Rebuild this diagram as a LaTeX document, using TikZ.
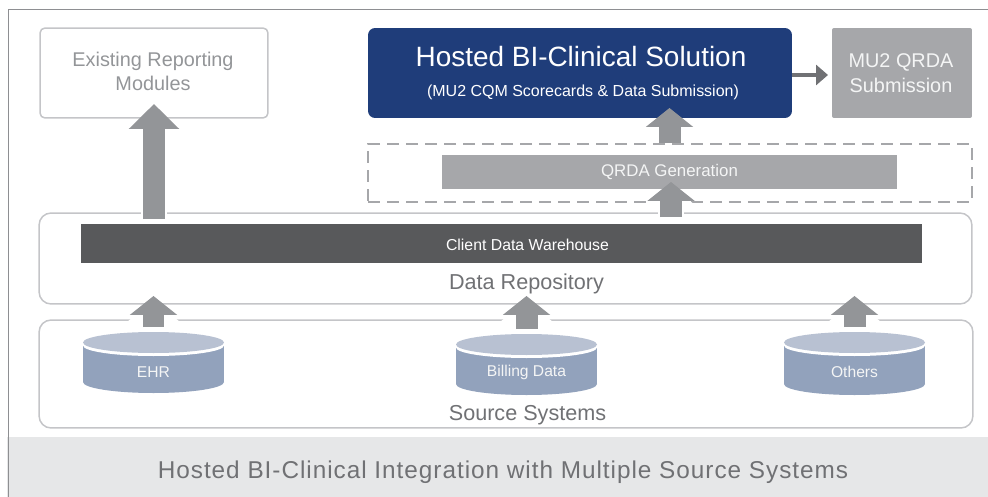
\documentclass[tikz,border=0pt]{standalone}
\usepackage{fontspec}
\setmainfont{Liberation Sans}
\newfontfamily\capfont[LetterSpace=4]{Liberation Sans}
\usetikzlibrary{arrows.meta}

\definecolor{framegray}{HTML}{8E8F92}
\definecolor{boxline}{HTML}{C4C5C8}
\definecolor{navy}{HTML}{1F3D7A}
\definecolor{midgray}{HTML}{A6A7AA}
\definecolor{arrowgray}{HTML}{939598}
\definecolor{darkgray}{HTML}{58595B}
\definecolor{band}{HTML}{E6E7E8}
\definecolor{dbbody}{HTML}{92A2BC}
\definecolor{dbtop}{HTML}{B8C1D2}
\definecolor{textgray}{HTML}{707174}

\tikzset{
    box/.style={draw=boxline, line width=0.03cm, rounded corners=0.1cm, inner sep=0pt, outer sep=0pt},
    solid box/.style={inner sep=0pt, outer sep=0pt},
    bigarrow/.style={arrowgray, line width=0.46cm, -{Triangle[length=0.5cm, width=0.98cm]},
        preaction={draw=white, line width=0.54cm, -{Triangle[length=0.56cm, width=1.14cm]}, shorten >=-0.06cm}},
    smallarrow/.style={arrowgray, line width=0.44cm, -{Triangle[length=0.38cm, width=0.93cm]},
        preaction={draw=white, line width=0.52cm, -{Triangle[length=0.44cm, width=1.09cm]}, shorten >=-0.06cm}},
    label/.style={inner sep=0pt, text=textgray, align=center},
    small white/.style={inner sep=0pt, text=white, align=center},
    soft white/.style={small white, text=white!88!midgray},
}

\begin{document}
\begin{tikzpicture}[x=0.02cm, y=-0.02cm]

    \useasboundingbox (0,0) rectangle (988,497);

    % Frame and caption band
    \fill[band] (7,437) rectangle (988,497);
    \draw[framegray, line width=0.02cm] (8,497) -- (8,9.5) -- (988,9.5);
    \node[label] (caption) at (503,472) {\capfont\fontsize{13.85}{15}\selectfont Hosted BI-Clinical Integration with Multiple Source Systems};

    % Top row
    \node[box, minimum width=4.56cm, minimum height=1.8cm] (existing) at (154,73) {};
    \node[label, text=arrowgray, font=\fontsize{11.3}{13.8}\selectfont] (existingtext) at (153,71.5) {Existing Reporting\\Modules};
    \node[solid box, fill=navy, rounded corners=0.14cm, minimum width=8.48cm, minimum height=1.8cm] (hosted) at (580,73) {};
    \node[small white] (hostedtitle) at (581,56.5) {\fontsize{15.9}{18}\selectfont Hosted BI-Clinical Solution};
    \node[small white] (hostedsub) at (583,92.5) {\fontsize{9.1}{10}\selectfont (MU2 CQM Scorecards \& Data Submission)};
    \node[solid box, fill=midgray, rounded corners=0.04cm, minimum width=2.8cm, minimum height=1.8cm] (submission) at (902,73) {};
    \node[soft white, font=\fontsize{11.3}{14.2}\selectfont] (submissiontext) at (901,73.5) {MU2 QRDA\\Submission};

    % QRDA
    \node[draw=midgray, line width=0.03cm, dash pattern=on 0.24cm off 0.14cm, inner sep=0pt, outer sep=0pt, minimum width=12.08cm, minimum height=1.16cm] (qrdaframe) at (670,173) {};
    \node[solid box, fill=midgray, minimum width=9.1cm, minimum height=0.68cm] (qrda) at (669.5,172) {};
    \node[soft white] (qrdatext) at (669.5,171.5) {\fontsize{9.6}{11}\selectfont QRDA Generation};

    % Repository
    \node[box, rounded corners=0.24cm, minimum width=18.66cm, minimum height=1.82cm] (repository) at (505.5,258.5) {};
    \node[solid box, fill=darkgray, minimum width=16.82cm, minimum height=0.78cm] (warehouse) at (501.5,243.5) {};
    \node[small white] (warehousetext) at (527.5,245) {\fontsize{9}{10}\selectfont Client Data Warehouse};
    \node[label] (repositorytext) at (526.5,284) {\fontsize{12.3}{14}\selectfont Data Repository};

    % Sources
    \node[box, rounded corners=0.24cm, minimum width=18.68cm, minimum height=2.16cm] (sources) at (506,374) {};
    \node[label] (sourcestext) at (527.5,415) {\fontsize{12.3}{14}\selectfont Source Systems};

    \foreach \xc/\yt/\yb/\nm/\lbl in {153.5/332/393/ehr/EHR, 526.5/334/395/billing/Billing Data, 854.5/332/395/others/Others}{
        \fill[dbbody] (\xc-70.5,\yt+13.5) rectangle (\xc+70.5,\yb-11);
        \fill[dbbody] (\xc,\yb-11) ellipse [x radius=70.5, y radius=11];
        \fill[white] (\xc,\yt+13.5) ellipse [x radius=70.5, y radius=10.5];
        \fill[dbtop] (\xc,\yt+10.5) ellipse [x radius=70.5, y radius=10.5];
        \coordinate (\nm top) at (\xc,\yt);
        \node[soft white] (\nm) at (\xc,372) {\fontsize{8.9}{10}\selectfont \lbl};
    }

    % Arrows
    \draw[bigarrow, shorten <=0.1cm, shorten >=-0.28cm] (existing.south |- warehouse.north) -- (existing.south);
    \coordinate (qrdaout) at (669.5,155);
    \coordinate (whout) at (671,224);
    \draw[smallarrow, shorten <=0.24cm, shorten >=-0.2cm] (qrdaout) -- (qrdaout |- hosted.south);
    \draw[smallarrow, shorten <=0.14cm, shorten >=-0.14cm] (whout) -- (whout |- qrda.south);
    \foreach \nm in {ehr, billing, others}{
        \draw[smallarrow, shorten <=0.1cm, shorten >=-0.16cm] (\nm top) -- (\nm top |- repository.south);
    }
    \coordinate (hostedout) at (792,75);
    \draw[textgray, line width=0.07cm, -{Triangle[length=0.24cm, width=0.4cm]}, shorten >=0.08cm] (hostedout) -- (hostedout -| submission.west);

\end{tikzpicture}
\end{document}
